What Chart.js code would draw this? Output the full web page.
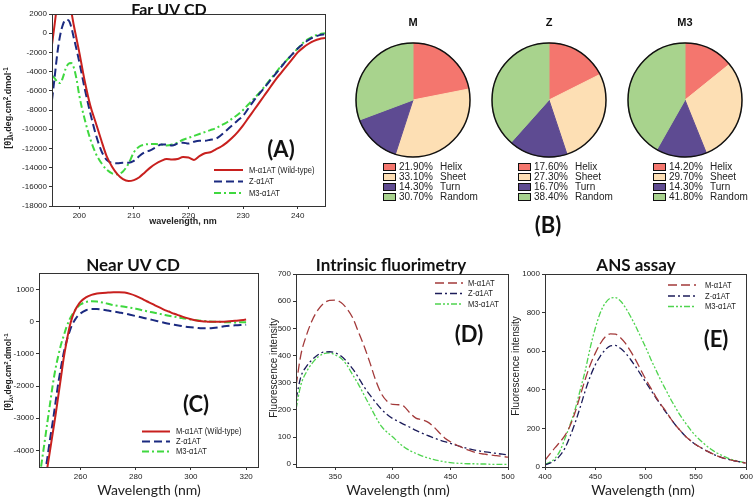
<!DOCTYPE html>
<html><head><meta charset="utf-8"><title>Far/Near UV CD, fluorimetry and ANS assay</title>
<script src="https://cdn.jsdelivr.net/npm/chart.js@4.4.1/dist/chart.umd.min.js"></script>
<style>
html,body{margin:0;padding:0;background:#fff;}
#fig{position:relative;width:755px;height:501px;overflow:hidden;background:#fff;}
#fig canvas{position:absolute;left:0;top:0;}
</style></head><body>
<div id="fig">
<canvas id="chartA" width="755" height="501"></canvas>
<canvas id="pieM" width="755" height="501"></canvas>
<canvas id="pieZ" width="755" height="501"></canvas>
<canvas id="pieM3" width="755" height="501"></canvas>
<canvas id="chartC" width="755" height="501"></canvas>
<canvas id="chartD" width="755" height="501"></canvas>
<canvas id="chartE" width="755" height="501"></canvas>
</div>
<script>
// ---------------- DATA ----------------
const seriesNamesCD = ['M-α1AT (Wild-type)', 'Z-α1AT', 'M3-α1AT'];
const seriesNamesFl = ['M-α1AT', 'Z-α1AT', 'M3-α1AT'];

// (A) Far UV CD
const farUvWavelength = [195,195.5,196,196.5,197,197.5,198,198.5,199,199.5,
  200,201,202,203,204,205,206,207,208,209,210,211,212,213,214,215,216,217,218,219,
  220,221,222,223,224,225,226,227,228,229,230,231,232,233,234,235,236,237,238,239,
  240,241,242,243,244,245];
const farUvM = [-1200,1000,3200,4500,5000,4800,4000,2400,800,-600,
  -2000,-5000,-7500,-9300,-11100,-12800,-13900,-14700,-15200,-15400,
  -15300,-15000,-14500,-14000,-13600,-13300,-13100,-13150,-13100,-12900,
  -12950,-13200,-12800,-12500,-12400,-12100,-11800,-11400,-10900,-10300,
  -9600,-8800,-8000,-7200,-6400,-5600,-4800,-4100,-3400,-2700,
  -2000,-1500,-1100,-800,-600,-500];
const farUvZ = [-7000,-4500,-2000,-200,900,1400,1350,700,-500,-1700,
  -3000,-5800,-8300,-10500,-12200,-13200,-13500,-13550,-13500,-13500,
  -13300,-12800,-12400,-12200,-11900,-11600,-11600,-11700,-11500,-11400,
  -11500,-11300,-11200,-11200,-11100,-11000,-10600,-10100,-9600,-9100,
  -8600,-7800,-7000,-6300,-5600,-4900,-4200,-3500,-2800,-2200,
  -1600,-1100,-700,-400,-200,-100];
const farUvM3 = [-4400,-4700,-5100,-5200,-4600,-3700,-3200,-3100,-3600,-4800,
  -6500,-9000,-11000,-12500,-13500,-14200,-14600,-14700,-14400,-13600,
  -12400,-11800,-11600,-11550,-11550,-11600,-11700,-11600,-11400,-11100,
  -10900,-10700,-10500,-10300,-10100,-9900,-9600,-9300,-8900,-8500,
  -8000,-7400,-6800,-6200,-5500,-4800,-4100,-3400,-2800,-2200,
  -1600,-1000,-600,-300,-100,0];
const farUvXTicks = [200,210,220,230,240];
const farUvYTicks = [2000,0,-2000,-4000,-6000,-8000,-10000,-12000,-14000,-16000,-18000];

// (B) Secondary structure (%)
const structureTypes = ['Helix','Sheet','Turn','Random'];
const pieTitles = ['M','Z','M3'];
const structureM = [21.9, 33.1, 14.3, 30.7];
const structureZ = [17.6, 27.3, 16.7, 38.4];
const structureM3 = [14.2, 29.7, 14.3, 41.8];

// (C) Near UV CD
const nearUvWavelength = [245,246,247,248,249,250,251,252,253,254,255,256,257,258,259,
  260,262,264,266,268,270,272,274,276,278,280,
  282,284,286,288,290,292,294,296,298,300,
  302,304,306,308,310,312,314,316,318,320];
const nearUvM = [-6200,-5650,-5100,-4550,-4000,-3450,-2900,-2300,-1700,-1100,-620,-180,130,350,500,
  620,760,840,880,900,910,920,920,910,870,810,
  730,640,560,470,390,320,250,190,130,80,
  40,15,5,0,0,5,15,30,50,70];
const nearUvZ = [-5900,-5350,-4800,-4250,-3650,-3100,-2500,-1900,-1400,-950,-600,-320,-90,60,180,
  260,360,400,400,380,350,320,290,260,220,180,
  140,100,60,20,-20,-60,-90,-120,-150,-170,
  -185,-200,-200,-190,-170,-140,-120,-110,-100,-90];
const nearUvM3 = [-4970,-4360,-3760,-3150,-2550,-1950,-1450,-1050,-700,-420,-150,60,220,350,460,
  540,615,640,630,600,560,520,495,470,440,410,
  370,330,295,260,225,190,160,130,100,75,
  50,30,15,5,0,-10,-15,-20,-15,-10];
const nearUvXTicks = [260,280,300,320];
const nearUvYTicks = [1000,0,-1000,-2000,-3000,-4000];

// (D) Intrinsic fluorimetry
const fluorWavelength = [316,320,325,330,335,340,345,350,355,360,365,370,375,380,385,390,395,400,405,410,
  415,420,425,430,435,440,445,450,455,460,465,470,475,480,485,490,495,500];
const fluorM = [290,400,475,530,568,592,603,604,595,573,540,488,435,375,310,260,232,220,219,212,
  188,170,164,156,140,118,97,83,72,62,53,46,40,37,34,32,29,26];
const fluorZ = [240,320,360,385,403,413,414,410,398,378,352,320,285,255,228,203,183,168,157,146,
  136,125,115,106,98,90,83,77,70,64,58,53,49,46,43,40,37,35];
const fluorM3 = [205,290,340,372,395,407,410,402,390,365,330,295,255,215,175,140,118,100,80,63,
  50,40,31,24,18,13,9,6,4,3,2,2,1,1,0,0,0,0];
const fluorXTicks = [350,400,450,500];
const fluorYTicks = [0,100,200,300,400,500,600,700];

// (E) ANS assay
const ansWavelength = [400,405,410,415,420,425,430,435,440,445,450,455,460,465,470,475,480,485,490,495,
  500,505,510,515,520,525,530,535,540,545,550,555,560,565,570,575,580,585,590,595,600];
const ansM = [35,68,100,130,165,215,285,370,455,530,590,640,675,690,688,670,640,600,555,505,
  455,410,365,325,290,250,215,185,157,135,115,100,85,72,60,50,42,36,30,25,20];
const ansZ = [10,20,35,60,100,160,230,310,395,470,530,575,608,628,630,615,590,557,520,480,
  440,400,360,322,285,250,215,185,157,135,115,100,85,72,60,50,42,36,30,25,20];
const ansM3 = [15,25,45,85,150,220,300,400,500,620,720,800,850,875,878,860,825,780,730,675,
  620,560,505,450,400,350,305,262,225,190,160,135,112,92,75,62,50,40,32,26,20];
const ansXTicks = [400,450,500,550,600];
const ansYTicks = [0,200,400,600,800,1000];

// ---------------- STYLE / HELPERS ----------------
const W = 755, H = 501, YW = 40, XH = 20;
const SANS = "'Liberation Sans', Arial, sans-serif";
const HEAD = "Lato, 'Open Sans', sans-serif";
const structureColors = ['#F4766E', '#FDDFB4', '#5E4B92', '#A8D38D'];
const cdStyles = [
  {color:'#C8201E', width:2, dash:[]},
  {color:'#1B2A80', width:2, dash:[8,4]},
  {color:'#3FD83F', width:2, dash:[7,3,2,3]}
];
const flStyles = [
  {color:'#A33A3A', width:1.3, dash:[9,4]},
  {color:'#1C1C5A', width:1.3, dash:[7,3,2,3]},
  {color:'#4FD44F', width:1.3, dash:[6,2,2,2,2,2]}
];

function drawRich(ctx, it) {
  ctx.save();
  ctx.translate(it.x, it.y);
  if (it.rot) ctx.rotate(it.rot);
  const sx = it.sx || 1;
  ctx.scale(sx, 1);
  const segs = it.segs || [{t: it.t}];
  let total = 0;
  const info = segs.map(s => {
    const sz = (s.scale || 1) * it.size;
    const f = (it.weight || 'normal') + ' ' + sz + 'px ' + it.family;
    ctx.font = f;
    const w = ctx.measureText(s.t).width;
    total += w;
    return {f, w, dy: (s.dy || 0) * it.size};
  });
  let x = it.align === 'left' ? 0 : (it.align === 'right' ? -total : -total / 2);
  ctx.textBaseline = 'middle';
  ctx.textAlign = 'left';
  ctx.fillStyle = it.color || '#111';
  segs.forEach((s, i) => { ctx.font = info[i].f; ctx.fillText(s.t, x, info[i].dy); x += info[i].w; });
  ctx.restore();
}
function textPlugin(items) {
  return { id: 'pageText', afterDraw(chart) { items.forEach(it => drawRich(chart.ctx, it)); } };
}
const framePlugin = {
  id: 'frame',
  afterDatasetsDraw(chart) {
    const a = chart.chartArea, c = chart.ctx;
    c.save(); c.strokeStyle = '#333'; c.lineWidth = 1;
    c.strokeRect(Math.round(a.left) + 0.5, Math.round(a.top) + 0.5, Math.round(a.right - a.left), Math.round(a.bottom - a.top));
    c.restore();
  }
};
function lineLegendPlugin(g) {
  return {
    id: 'lineLegend',
    afterDraw(chart) {
      const c = chart.ctx;
      chart.data.datasets.forEach((ds, i) => {
        const y = g.ys[i];
        c.save();
        c.strokeStyle = ds.borderColor; c.lineWidth = ds.borderWidth; c.setLineDash(ds.borderDash || []);
        c.beginPath(); c.moveTo(g.x0, y); c.lineTo(g.x1, y); c.stroke();
        c.restore();
        drawRich(c, {t: ds.label, x: g.tx, y: y, size: g.size, sx: 0.8, family: SANS, align: 'left', color: '#222'});
      });
    }
  };
}
const outlinePlugin = {
  id: 'outline',
  afterDatasetsDraw(chart) {
    const arc = chart.getDatasetMeta(0).data[0];
    const c = chart.ctx;
    c.save(); c.strokeStyle = '#111'; c.lineWidth = 1.5;
    c.beginPath(); c.arc(arc.x, arc.y, arc.outerRadius, 0, Math.PI * 2); c.stroke();
    c.restore();
  }
};
function pieLegendPlugin(x, y0) {
  return {
    id: 'pieLegend',
    afterDraw(chart) {
      const c = chart.ctx;
      const vals = chart.data.datasets[0].data;
      chart.data.labels.forEach((lab, i) => {
        const y = y0 + i * 10;
        c.save();
        c.fillStyle = chart.data.datasets[0].backgroundColor[i];
        c.fillRect(x + 0.5, y - 3.5, 12, 7);
        c.strokeStyle = '#111'; c.lineWidth = 1;
        c.strokeRect(x + 0.5, y - 3.5, 12, 7);
        c.restore();
        drawRich(c, {t: vals[i].toFixed(2) + '%', x: x + 16, y: y, size: 10, family: SANS, align: 'left', color: '#222'});
        drawRich(c, {t: lab, x: x + 57, y: y, size: 10, family: SANS, align: 'left', color: '#222'});
      });
    }
  };
}
function mkScale(min, max, ticks, horiz) {
  return {
    type: 'linear', min: min, max: max,
    afterBuildTicks: s => { s.ticks = ticks.map(v => ({value: v})); },
    afterFit: s => { if (horiz) s.height = XH; else s.width = YW; },
    grid: {display: true, drawOnChartArea: false, drawTicks: true, tickLength: 3, color: '#333', lineWidth: 1},
    border: {display: false},
    ticks: {font: {family: SANS, size: 8}, color: '#222', padding: 2, maxRotation: 0, autoSkip: false, callback: v => String(v)}
  };
}
function lineChart(id, cfg) {
  const a = cfg.area;
  return new Chart(document.getElementById(id), {
    type: 'line',
    data: {
      datasets: cfg.series.map((vals, i) => ({
        label: cfg.names[i],
        data: cfg.x.map((x, j) => ({x: x, y: vals[j]})),
        borderColor: cfg.styles[i].color, borderWidth: cfg.styles[i].width, borderDash: cfg.styles[i].dash,
        pointRadius: 0, fill: false, cubicInterpolationMode: 'monotone'
      }))
    },
    options: {
      responsive: false, animation: false, events: [],
      layout: {padding: {left: a.L - YW, top: a.T, right: W - a.R, bottom: H - a.B - XH}},
      plugins: {legend: {display: false}, tooltip: {enabled: false}},
      scales: {x: mkScale(cfg.xMin, cfg.xMax, cfg.xTicks, true), y: mkScale(cfg.yMin, cfg.yMax, cfg.yTicks, false)}
    },
    plugins: [framePlugin, lineLegendPlugin(cfg.legend), textPlugin(cfg.texts)]
  });
}
function pieChart(id, values, cx, cy, r, legendX, texts) {
  return new Chart(document.getElementById(id), {
    type: 'pie',
    data: {labels: structureTypes, datasets: [{data: values, backgroundColor: structureColors, borderColor: structureColors, borderWidth: 1}]},
    options: {
      responsive: false, animation: false, events: [],
      layout: {padding: {left: cx - r - 0.5, top: cy - r - 0.5, right: W - cx - r - 0.5, bottom: H - cy - r - 0.5}},
      plugins: {legend: {display: false}, tooltip: {enabled: false}}
    },
    plugins: [outlinePlugin, pieLegendPlugin(legendX, 167), textPlugin(texts)]
  });
}
const thetaSegs = [{t:'[θ]'},{t:'λ',scale:0.7,dy:0.3},{t:',deg.cm'},{t:'2',scale:0.7,dy:-0.35},{t:'.dmol'},{t:'-1',scale:0.7,dy:-0.35}];

// ---------------- (A) ----------------
lineChart('chartA', {
  area: {L: 52, T: 14, R: 325, B: 206},
  x: farUvWavelength, series: [farUvM, farUvZ, farUvM3], names: seriesNamesCD, styles: cdStyles,
  xMin: 195, xMax: 245, yMin: -18000, yMax: 2000, xTicks: farUvXTicks, yTicks: farUvYTicks,
  legend: {x0: 214, x1: 243, tx: 249, ys: [170, 181.5, 193], size: 9.5},
  texts: [
    {t: 'Far UV CD', x: 169, y: 10, size: 16, weight: 'bold', family: HEAD, color: '#111'},
    {t: '(A)', x: 281, y: 150, size: 22, weight: 'bold', family: HEAD, color: '#111'},
    {t: 'wavelength, nm', x: 183, y: 222, size: 9, weight: 'bold', family: SANS, color: '#222'},
    {segs: thetaSegs, x: 9, y: 108, rot: -Math.PI / 2, size: 9, weight: 'bold', family: SANS, color: '#222'}
  ]
});

// ---------------- (B) ----------------
pieChart('pieM', structureM, 413, 100, 57, 383, [
  {t: pieTitles[0], x: 413, y: 23, size: 11, weight: 'bold', family: SANS, color: '#111'},
  {t: '(B)', x: 548, y: 226, size: 22, weight: 'bold', family: HEAD, color: '#111'}
]);
pieChart('pieZ', structureZ, 549, 100, 57, 518, [
  {t: pieTitles[1], x: 549, y: 23, size: 11, weight: 'bold', family: SANS, color: '#111'}
]);
pieChart('pieM3', structureM3, 685, 100, 57, 653, [
  {t: pieTitles[2], x: 685, y: 23, size: 11, weight: 'bold', family: SANS, color: '#111'}
]);

// ---------------- (C) ----------------
lineChart('chartC', {
  area: {L: 39, T: 273, R: 258, B: 467},
  x: nearUvWavelength, series: [nearUvM, nearUvZ, nearUvM3], names: seriesNamesCD, styles: cdStyles,
  xMin: 245, xMax: 324.3, yMin: -4520, yMax: 1520, xTicks: nearUvXTicks, yTicks: nearUvYTicks,
  legend: {x0: 142, x1: 170, tx: 176, ys: [431.5, 441.5, 451.5], size: 9.5},
  texts: [
    {t: 'Near UV CD', x: 133, y: 266, size: 17, weight: 'bold', family: HEAD, color: '#111'},
    {t: '(C)', x: 196, y: 405, size: 22, weight: 'bold', family: HEAD, color: '#111'},
    {t: 'Wavelength (nm)', x: 149, y: 490, size: 14, family: HEAD, color: '#222'},
    {segs: thetaSegs, x: 9, y: 372, rot: -Math.PI / 2, size: 8.5, weight: 'bold', family: SANS, color: '#222'}
  ]
});

// ---------------- (D) ----------------
lineChart('chartD', {
  area: {L: 296, T: 274, R: 508, B: 467},
  x: fluorWavelength, series: [fluorM, fluorZ, fluorM3], names: seriesNamesFl, styles: flStyles,
  xMin: 315.9, xMax: 500, yMin: -10, yMax: 700, xTicks: fluorXTicks, yTicks: fluorYTicks,
  legend: {x0: 435, x1: 463, tx: 468, ys: [283, 293.5, 304], size: 9.5},
  texts: [
    {t: 'Intrinsic fluorimetry', x: 391, y: 266, size: 17, weight: 'bold', family: HEAD, color: '#111'},
    {t: '(D)', x: 469, y: 335, size: 22, weight: 'bold', family: HEAD, color: '#111'},
    {t: 'Wavelength (nm)', x: 398, y: 490, size: 14, family: HEAD, color: '#222'},
    {t: 'Fluorescence intensity', x: 274, y: 368, rot: -Math.PI / 2, size: 10, family: SANS, color: '#222'}
  ]
});

// ---------------- (E) ----------------
lineChart('chartE', {
  area: {L: 545, T: 274, R: 749, B: 467},
  x: ansWavelength, series: [ansM, ansZ, ansM3], names: seriesNamesFl, styles: flStyles,
  xMin: 400, xMax: 600, yMin: 0, yMax: 1000, xTicks: ansXTicks, yTicks: ansYTicks,
  legend: {x0: 668, x1: 696, tx: 705, ys: [285, 296, 306.5], size: 9.5},
  texts: [
    {t: 'ANS assay', x: 636, y: 266, size: 17, weight: 'bold', family: HEAD, color: '#111'},
    {t: '(E)', x: 716, y: 340, size: 22, weight: 'bold', family: HEAD, color: '#111'},
    {t: 'Wavelength (nm)', x: 643, y: 490, size: 14, family: HEAD, color: '#222'},
    {t: 'Fluorescence intensity', x: 516, y: 366, rot: -Math.PI / 2, size: 10, family: SANS, color: '#222'}
  ]
});
</script>
</body></html>
